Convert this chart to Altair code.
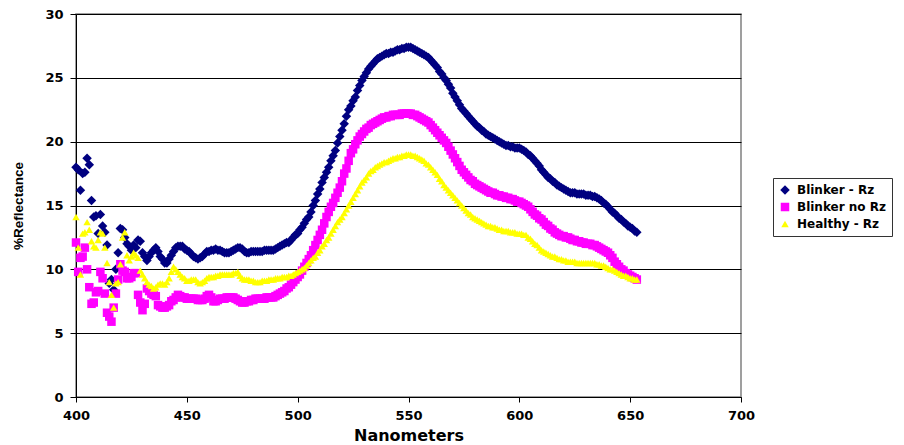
import altair as alt
import pandas as pd

# Wavelengths (nm), one reading per nanometre
nm = list(range(400, 654))

blinker_rz = [
    18.0, 17.8, 16.2, 17.5, 17.6, 18.7, 18.2, 15.4, 14.1, 14.2,
    12.8, 14.3, 13.4, 12.9, 11.9, 8.9, 9.2, 8.4, 10.0, 11.3,
    13.2, 13.1, 12.5, 12.0, 11.8, 11.5, 11.9, 11.7, 12.3, 12.2,
    11.3, 11.0, 10.7, 11.0, 11.3, 11.5, 11.7, 11.4, 11.0, 10.8,
    10.5, 10.5, 10.8, 11.1, 11.4, 11.7, 11.8, 11.8, 11.8, 11.6,
    11.5, 11.4, 11.2, 11.0, 10.9, 10.8, 10.9, 11.0, 11.2, 11.4,
    11.4, 11.5, 11.5, 11.6, 11.5, 11.5, 11.4, 11.3, 11.3, 11.3,
    11.4, 11.5, 11.6, 11.7, 11.7, 11.6, 11.4, 11.3, 11.3, 11.4,
    11.4, 11.4, 11.4, 11.4, 11.4, 11.5, 11.5, 11.5, 11.5, 11.5,
    11.6, 11.7, 11.8, 11.9, 12.0, 12.1, 12.1, 12.3, 12.5, 12.7,
    12.8, 13.1, 13.3, 13.6, 13.9, 14.1, 14.5, 15.0, 15.4, 15.9,
    16.3, 16.8, 17.2, 17.6, 18.0, 18.5, 18.9, 19.3, 19.9, 20.4,
    20.9, 21.4, 22.0, 22.5, 22.8, 23.2, 23.5, 24.0, 24.4, 24.8,
    25.1, 25.4, 25.7, 25.9, 26.1, 26.3, 26.5, 26.6, 26.7, 26.8,
    26.9, 26.9, 27.0, 27.0, 27.1, 27.2, 27.2, 27.3, 27.3, 27.4,
    27.4, 27.4, 27.3, 27.2, 27.1, 27.0, 26.9, 26.8, 26.7, 26.6,
    26.4, 26.2, 26.0, 25.8, 25.5, 25.3, 25.0, 24.8, 24.5, 24.2,
    23.8, 23.5, 23.2, 22.9, 22.6, 22.4, 22.2, 22.0, 21.8, 21.6,
    21.4, 21.2, 21.1, 20.9, 20.8, 20.6, 20.5, 20.4, 20.3, 20.2,
    20.1, 20.0, 19.9, 19.8, 19.7, 19.7, 19.6, 19.6, 19.5, 19.5,
    19.5, 19.4, 19.3, 19.2, 19.0, 18.9, 18.7, 18.5, 18.3, 18.1,
    17.8, 17.6, 17.4, 17.2, 17.1, 16.9, 16.8, 16.6, 16.5, 16.4,
    16.3, 16.2, 16.1, 16.0, 16.0, 16.0, 15.9, 15.9, 15.9, 15.9,
    15.8, 15.8, 15.8, 15.7, 15.7, 15.6, 15.5, 15.4, 15.2, 15.1,
    14.9, 14.7, 14.5, 14.4, 14.2, 14.0, 13.9, 13.7, 13.6, 13.4,
    13.3, 13.2, 13.0, 12.9,
]

blinker_no_rz = [
    12.1, 9.8, 10.9, 11.0, 11.7, 10.0, 8.6, 7.3, 7.4, 8.2,
    8.3, 9.8, 9.3, 8.1, 6.6, 6.3, 5.9, 7.0, 8.1, 9.2,
    10.4, 9.9, 9.8, 9.3, 9.3, 9.4, 9.7, 9.7, 8.0, 7.4,
    6.8, 7.3, 8.5, 8.3, 8.1, 8.0, 7.9, 7.2, 7.1, 7.0,
    7.0, 7.1, 7.2, 7.5, 7.6, 7.8, 8.0, 7.9, 7.8, 7.8,
    7.7, 7.7, 7.7, 7.7, 7.7, 7.6, 7.6, 7.6, 7.7, 7.9,
    8.0, 7.8, 7.5, 7.5, 7.6, 7.7, 7.7, 7.7, 7.8, 7.8,
    7.8, 7.8, 7.7, 7.6, 7.5, 7.4, 7.4, 7.5, 7.5, 7.6,
    7.6, 7.7, 7.7, 7.7, 7.7, 7.7, 7.8, 7.8, 7.8, 7.8,
    7.9, 8.0, 8.1, 8.2, 8.3, 8.5, 8.6, 8.8, 9.0, 9.2,
    9.4, 9.6, 9.9, 10.2, 10.5, 10.8, 11.1, 11.5, 11.9, 12.3,
    12.7, 13.1, 13.6, 14.1, 14.5, 14.9, 15.2, 15.6, 16.0, 16.4,
    16.9, 17.5, 17.9, 18.5, 19.1, 19.4, 19.8, 20.1, 20.4, 20.6,
    20.8, 21.0, 21.1, 21.3, 21.4, 21.5, 21.6, 21.7, 21.8, 21.9,
    21.9, 22.0, 22.0, 22.1, 22.1, 22.1, 22.1, 22.2, 22.2, 22.2,
    22.2, 22.2, 22.1, 22.1, 22.0, 21.9, 21.8, 21.7, 21.6, 21.5,
    21.3, 21.1, 20.9, 20.7, 20.5, 20.3, 20.1, 19.9, 19.6, 19.3,
    19.0, 18.7, 18.4, 18.1, 17.8, 17.6, 17.4, 17.2, 17.0, 16.9,
    16.7, 16.6, 16.5, 16.4, 16.3, 16.2, 16.1, 16.0, 16.0, 15.9,
    15.8, 15.8, 15.7, 15.7, 15.6, 15.6, 15.5, 15.5, 15.4, 15.3,
    15.3, 15.2, 15.1, 15.0, 14.9, 14.7, 14.5, 14.3, 14.2, 14.0,
    13.9, 13.7, 13.5, 13.4, 13.2, 13.1, 12.9, 12.8, 12.7, 12.6,
    12.6, 12.5, 12.5, 12.4, 12.3, 12.3, 12.2, 12.2, 12.1, 12.1,
    12.0, 12.0, 12.0, 11.9, 11.9, 11.8, 11.7, 11.6, 11.5, 11.4,
    11.3, 11.1, 10.9, 10.6, 10.4, 10.2, 10.0, 9.9, 9.7, 9.6,
    9.5, 9.4, 9.3, 9.2,
]

healthy_rz = [
    14.1, 11.7, 9.6, 12.8, 12.9, 13.7, 13.1, 12.2, 11.8, 11.7,
    12.3, 12.9, 12.8, 11.7, 10.5, 9.0, 8.0, 7.0, 8.9, 9.0,
    10.4, 12.5, 12.9, 11.1, 10.7, 11.0, 11.3, 11.1, 10.9, 9.9,
    9.6, 9.3, 9.0, 8.8, 8.7, 8.5, 8.6, 8.8, 8.9, 8.9,
    8.8, 9.0, 9.3, 9.8, 10.2, 10.0, 9.8, 9.6, 9.4, 9.3,
    9.1, 9.1, 9.2, 9.2, 9.2, 9.0, 8.9, 9.0, 9.1, 9.3,
    9.4, 9.4, 9.4, 9.5, 9.5, 9.6, 9.6, 9.6, 9.6, 9.6,
    9.6, 9.7, 9.7, 9.8, 9.5, 9.3, 9.2, 9.2, 9.2, 9.1,
    9.1, 9.0, 9.0, 9.0, 9.1, 9.1, 9.1, 9.2, 9.2, 9.2,
    9.3, 9.3, 9.3, 9.4, 9.4, 9.4, 9.5, 9.5, 9.6, 9.7,
    9.8, 9.9, 10.0, 10.1, 10.3, 10.5, 10.7, 10.9, 11.0, 11.3,
    11.5, 11.8, 12.0, 12.3, 12.5, 12.8, 13.1, 13.4, 13.7, 13.9,
    14.1, 14.4, 14.7, 15.0, 15.3, 15.6, 15.9, 16.2, 16.5, 16.8,
    17.0, 17.2, 17.5, 17.7, 17.8, 18.0, 18.1, 18.2, 18.3, 18.4,
    18.4, 18.5, 18.6, 18.7, 18.7, 18.8, 18.8, 18.9, 18.9, 19.0,
    19.0, 19.0, 18.9, 18.9, 18.8, 18.7, 18.6, 18.5, 18.3, 18.2,
    18.0, 17.8, 17.6, 17.4, 17.1, 16.9, 16.6, 16.4, 16.2, 16.0,
    15.8, 15.6, 15.4, 15.2, 15.0, 14.8, 14.6, 14.4, 14.3, 14.1,
    14.0, 13.9, 13.8, 13.7, 13.6, 13.5, 13.4, 13.4, 13.3, 13.3,
    13.2, 13.1, 13.1, 13.0, 13.0, 13.0, 12.9, 12.9, 12.9, 12.8,
    12.8, 12.8, 12.7, 12.7, 12.5, 12.4, 12.2, 12.0, 11.9, 11.7,
    11.5, 11.4, 11.3, 11.2, 11.1, 11.0, 11.0, 10.9, 10.8, 10.8,
    10.7, 10.7, 10.6, 10.6, 10.6, 10.6, 10.5, 10.5, 10.5, 10.5,
    10.5, 10.5, 10.5, 10.5, 10.5, 10.4, 10.4, 10.3, 10.3, 10.2,
    10.1, 10.0, 10.0, 9.9, 9.8, 9.7, 9.6, 9.5, 9.5, 9.4,
    9.3, 9.3, 9.2, 9.2,
]

series_names = ["Blinker - Rz", "Blinker no Rz", "Healthy - Rz"]
series_colors = ["#000080", "#FF00FF", "#FFFF00"]
series_shapes = ["diamond", "square", "triangle-up"]
series_sizes = [90, 55, 160]
x_ticks = [400, 450, 500, 550, 600, 650, 700]
y_ticks = [0, 5, 10, 15, 20, 25, 30]

rows = []
for name, vals in zip(series_names, [blinker_rz, blinker_no_rz, healthy_rz]):
    for x, v in zip(nm, vals):
        rows.append({"nm": x, "refl": v, "series": name})
df = pd.DataFrame(rows)

FONT = "DejaVu Sans"

chart = (
    alt.Chart(df)
    .mark_point(filled=True, opacity=1, strokeWidth=0)
    .encode(
        x=alt.X(
            "nm:Q",
            scale=alt.Scale(domain=[400, 700], nice=False, zero=False),
            axis=alt.Axis(
                values=x_ticks,
                title="Nanometers",
                grid=False,
                format="d",
                tickSize=5,
                labelPadding=7,
                labelFlush=False,
                titleY=43,
                titleBaseline="alphabetic",
                titleFontSize=16,
            ),
        ),
        y=alt.Y(
            "refl:Q",
            scale=alt.Scale(domain=[0, 30], nice=False),
            axis=alt.Axis(
                values=y_ticks,
                title="%Reflectance",
                grid=True,
                gridColor="#000000",
                gridWidth=1,
                gridOpacity=1,
                tickSize=6,
                labelPadding=7,
                labelFlush=False,
                titleFontSize=13.5,
                titleFont="Liberation Sans",
                titleX=-58,
                titleBaseline="middle",
            ),
        ),
        color=alt.Color(
            "series:N",
            scale=alt.Scale(domain=series_names, range=series_colors),
            legend=alt.Legend(
                title=None,
                orient="none",
                legendX=697,
                legendY=164,
                direction="vertical",
                labelFont=FONT,
                labelFontSize=12,
                labelFontWeight="bold",
                labelColor="#000000",
                labelOffset=6,
                symbolSize=45,
                symbolStrokeWidth=0,
                symbolOpacity=1,
                strokeColor="#333333",
                fillColor="#FFFFFF",
                padding=6,
                rowPadding=5,
            ),
        ),
        shape=alt.Shape(
            "series:N",
            scale=alt.Scale(domain=series_names, range=series_shapes),
        ),
        size=alt.Size(
            "series:N",
            scale=alt.Scale(domain=series_names, range=series_sizes),
            legend=None,
        ),
    )
    .properties(
        width=665,
        height=383,
        autosize=alt.AutoSizeParams(type="none"),
        padding={"left": 68, "top": 6, "right": 155, "bottom": 47},
        background="#FFFFFF",
    )
    .configure_view(stroke="#808080", strokeWidth=1.5)
    .configure_axis(
        labelFont=FONT,
        labelFontSize=13,
        labelFontWeight="bold",
        labelColor="#000000",
        titleFont=FONT,
        titleFontWeight="bold",
        titleColor="#000000",
        domainColor="#000000",
        tickColor="#000000",
        domainWidth=1,
    )
)

chart.save("out.html", embed_options={"renderer": "svg", "actions": False})
